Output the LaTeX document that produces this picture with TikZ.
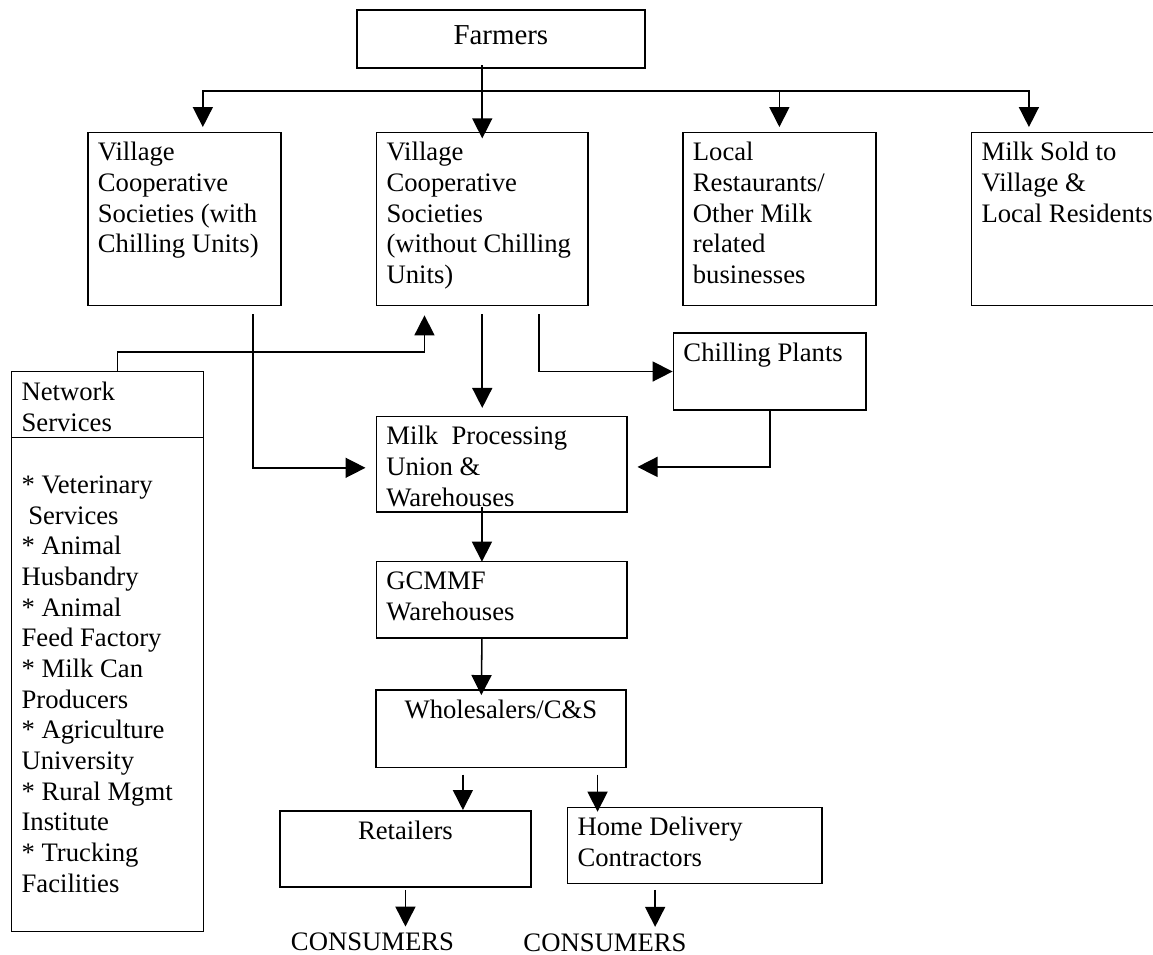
\documentclass[tikz,border=0pt]{standalone}
\usepackage{fontspec}
\setmainfont{Liberation Serif}
\usetikzlibrary{arrows.meta,shapes.multipart}
\newcommand{\boxtext}[4][\raggedright]{\parbox[t][#3][t]{#2}{#1\strut #4}}

\begin{document}
\begin{tikzpicture}[x=0.45pt, y=-0.45pt, font=\fontsize{12}{13.8}\selectfont, block/.style={draw, line width=0.8pt, anchor=north west, inner xsep=4.5pt, inner ysep=3.1pt}, arrow/.style={-{Triangle[length=9pt,width=9pt]}, line width=0.7pt}]
\useasboundingbox (0,0) rectangle (1153,955);
\node[block, inner ysep=5.3pt, font=\fontsize{13}{14.3}\selectfont] (farmers) at (356,9.3) {\boxtext[\centering]{120.6pt}{15.5pt}{Farmers}};
\node[block] (vcs1) at (87,131.7) {\boxtext{77.85pt}{71.65pt}{Village\\Cooperative\\Societies (with\\Chilling Units)}};
\node[block] (vcs2) at (375.7,131.7) {\boxtext{86.1pt}{71.65pt}{Village\\Cooperative\\Societies\\(without Chilling\\Units)}};
\node[block] (local) at (682,131.7) {\boxtext{77.85pt}{71.65pt}{Local\\Restaurants/\\Other Milk\\related\\businesses}};
\node[block] (milk) at (970.7,131.7) {\boxtext{81pt}{71.65pt}{Milk Sold to\\Village \&\\Local Residents}};
\node[block, rectangle split, rectangle split parts=2] (net) at (10.7,370.7) {\boxtext{77.4pt}{22.7pt}{Network\\Services}\nodepart{two}\boxtext{77.4pt}{215.3pt}{\\[-1.8pt]{*} Veterinary\\\hspace*{0.25em}Services\\{*} Animal\\Husbandry\\{*} Animal\\Feed Factory\\{*} Milk Can\\Producers\\{*} Agriculture\\University\\{*} Rural Mgmt\\Institute\\{*} Trucking\\Facilities}};
\node[block] (chill) at (672.6,332.3) {\boxtext{77.8pt}{28.3pt}{Chilling Plants}};
\node[block] (mpu) at (375.5,415.7) {\boxtext{103.6pt}{36.7pt}{Milk\ \ Processing\\Union \&\\Warehouses}};
\node[block] (gcmmf) at (375.5,560.7) {\boxtext{103.6pt}{28.3pt}{GCMMF\\Warehouses}};
\node[block] (whole) at (375,689.3) {\boxtext[\centering]{103.5pt}{28.6pt}{Wholesalers/C\&S}};
\node[block] (retail) at (279,810) {\boxtext[\centering]{104pt}{28.2pt}{Retailers}};
\node[block] (home) at (566.7,806.7) {\boxtext{105.4pt}{28pt}{Home Delivery\\Contractors}};
\node[anchor=base, inner sep=0pt] (cons1) at (372.5,950.7) {CONSUMERS};
\node[anchor=base, inner sep=0pt] (cons2) at (605,951) {CONSUMERS};
\coordinate (bus) at ([yshift=-9.9pt]farmers.south);
\draw[arrow] ([yshift=1.8pt]farmers.south -| vcs2.north) -- ([yshift=-3pt]vcs2.north);
\draw[arrow] (bus) -| ([xshift=8.3pt,yshift=2.1pt]vcs1.north);
\draw[arrow] (bus) -| ([yshift=2.1pt]local.north);
\draw[arrow] (bus) -| ([xshift=-19.2pt,yshift=2.1pt]milk.north);
\draw[arrow] ([xshift=-13pt,yshift=-3.6pt]vcs1.south east) |- ([xshift=-4.5pt,yshift=-1.6pt]mpu.west);
\draw[arrow] ([xshift=4.5pt]net.north) -- ++(0pt,8.4pt) -| ([xshift=-26pt,yshift=-4pt]vcs2.south);
\draw[arrow] ([yshift=-3.6pt]vcs2.south) -- ([yshift=3.5pt]vcs2.south |- mpu.north);
\draw[arrow] ([xshift=25.5pt,yshift=-3.6pt]vcs2.south) |- (chill.west);
\draw[arrow] (chill.south) |- ([xshift=4.5pt,yshift=-1.2pt]mpu.east);
\draw[arrow] ([xshift=-8.8pt,yshift=2.7pt]mpu.south) -- ([xshift=-8.8pt,yshift=-0.45pt]gcmmf.north);
\draw[arrow] ([xshift=-8.8pt]gcmmf.south) -- ([xshift=-8.8pt,yshift=-2.6pt]whole.north);
\draw[arrow] ([xshift=-17.1pt,yshift=-2.8pt]whole.south) -- ([xshift=-17.1pt]whole.south |- retail.north);
\draw[arrow] ([xshift=43.5pt,yshift=-2.8pt]whole.south) -- ([xshift=43.5pt,yshift=-2.25pt]whole.south |- home.north);
\draw[arrow] ([yshift=-0.7pt]retail.south) -- ([yshift=2.7pt]retail.south |- cons1.north);
\draw[arrow] ([xshift=-17.8pt,yshift=-2.4pt]home.south) -- ([xshift=-17.8pt,yshift=2.7pt]home.south |- cons2.north);
\end{tikzpicture}
\end{document}
